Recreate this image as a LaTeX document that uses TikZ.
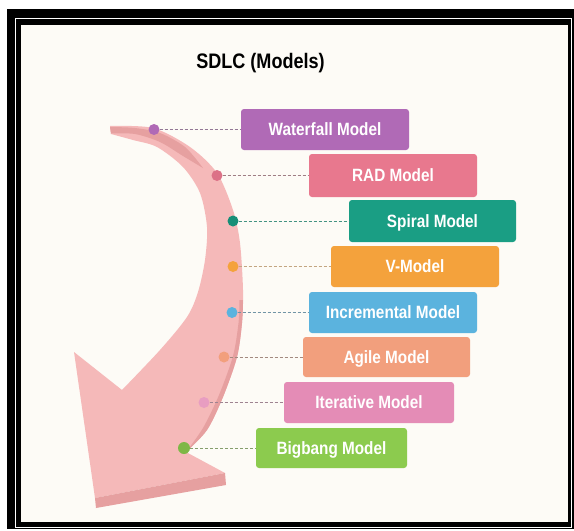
\documentclass[tikz,border=0pt]{standalone}
\usepackage{fontspec}
\setmainfont{Liberation Sans}
\newfontfamily\labelfont[FakeStretch=0.86]{Liberation Sans}
\newfontfamily\titlefont[FakeStretch=0.86]{Liberation Sans}
\definecolor{cream}{HTML}{FDFBF6}
\definecolor{arrowlight}{HTML}{F5B9B9}
\definecolor{arrowdark}{HTML}{E6A0A0}
\definecolor{cwf}{HTML}{B06AB6}
\definecolor{crad}{HTML}{E8788E}
\definecolor{cspi}{HTML}{1A9E84}
\definecolor{cvm}{HTML}{F4A23C}
\definecolor{cinc}{HTML}{5BB3DE}
\definecolor{cagi}{HTML}{F29F7D}
\definecolor{cite}{HTML}{E48CB6}
\definecolor{cbig}{HTML}{8CCB4E}
\tikzset{
  mbox/.style={rounded corners=3pt, minimum height=41pt, inner sep=0pt,
    text=white, font=\labelfont\bfseries\fontsize{17.8}{20}\selectfont,
    text height=12.7pt, text depth=0pt},
  dotn/.style={circle, inner sep=0pt, minimum size=11pt},
  dashline/.style={line width=0.9pt, dash pattern=on 3pt off 2pt}
}
\begin{document}
\begin{tikzpicture}[x=1pt,y=-1pt]
\useasboundingbox (0,0) rectangle (574,531);
\fill[white] (0,0) rectangle (574,531);
% frame
\fill[black] (7,9) rectangle (574,529);
\draw[white, line width=1.5pt] (15.5,18.5) rectangle (571.5,527.5);
\fill[cream] (21,25) rectangle (568,522);
% title
\node[font=\titlefont\bfseries\fontsize{21}{24}\selectfont, text height=15pt, text depth=0pt, inner sep=0pt] (title) at (260.5,61) {SDLC (Models)};
% arrow body
\fill[arrowlight] plot[smooth] coordinates {(110,126) (153,128) (190,147) (217,173) (233,210) (240,243) (243,290) (242,323) (237,357) (223,397) (207,430) (186,452)}
  -- (225,473) -- (95,498) -- (74,352) -- (122,390)
  -- plot[smooth] coordinates {(122,390) (160,350) (187,317) (198,292) (205,260) (207,227) (200,193) (183,167) (157,147) (133,140) (111,134)} -- cycle;
% dark faces
\fill[arrowdark] (225,473) -- (226,485) -- (96,508) -- (95,498) -- cycle;
\fill[arrowdark] plot[smooth] coordinates {(243,300) (242,323) (237,357) (223,397) (207,430) (186,452)}
  -- plot[smooth] coordinates {(186,452) (203,428) (219,395) (233,356) (238.5,323) (239.5,300)} -- cycle;
\fill[arrowdark] plot[smooth] coordinates {(110,127) (135,128) (160,133) (185,147) (203,168)}
  -- plot[smooth] coordinates {(203,168) (183,156) (160,142) (135,134) (111,133.5)} -- cycle;
% boxes
\node[mbox, fill=cwf, minimum width=168pt, minimum height=41pt] (b1) at (325,129.5) {Waterfall Model};
\node[mbox, fill=crad, minimum width=168pt, minimum height=43pt] (b2) at (393,175.5) {RAD Model};
\node[mbox, fill=cspi, minimum width=167pt, minimum height=42pt] (b3) at (432.5,221) {Spiral Model};
\node[mbox, fill=cvm, minimum width=168pt, minimum height=41pt] (b4) at (415,266.5) {V-Model};
\node[mbox, fill=cinc, minimum width=168pt, minimum height=41pt] (b5) at (393,312.5) {Incremental Model};
\node[mbox, fill=cagi, minimum width=167pt, minimum height=40pt] (b6) at (386.5,357) {Agile Model};
\node[mbox, fill=cite, minimum width=170pt, minimum height=41pt] (b7) at (369,402.5) {Iterative Model};
\node[mbox, fill=cbig, minimum width=151pt, minimum height=40pt] (b8) at (331.5,448) {Bigbang Model};
% dots
\node[dotn, fill=cwf] (d1) at (154,129.5) {};
\node[dotn, fill=crad!95!black] (d2) at (217,175.5) {};
\node[dotn, fill=cspi!90!black] (d3) at (233,221) {};
\node[dotn, fill=cvm] (d4) at (233,266.5) {};
\node[dotn, fill=cinc] (d5) at (232,312.5) {};
\node[dotn, fill=cagi] (d6) at (224,357) {};
\node[dotn, fill=cite!85!white] (d7) at (204,402.5) {};
\node[dotn, fill=cbig!90!black, minimum size=12pt] (d8) at (184,448) {};
% connectors
\draw[dashline, cwf!40!gray] (d1) -- (b1.west);
\draw[dashline, crad!30!gray] (d2) -- (b2.west);
\draw[dashline, cspi!60!gray] (d3) -- (b3.west);
\draw[dashline, cvm!45!gray!80] (d4) -- (b4.west);
\draw[dashline, cinc!40!gray] (d5) -- (b5.west);
\draw[dashline, cagi!30!gray] (d6) -- (b6.west);
\draw[dashline, cite!30!gray] (d7) -- (b7.west);
\draw[dashline, cbig!40!gray] (d8) -- (b8.west);
\end{tikzpicture}
\end{document}
